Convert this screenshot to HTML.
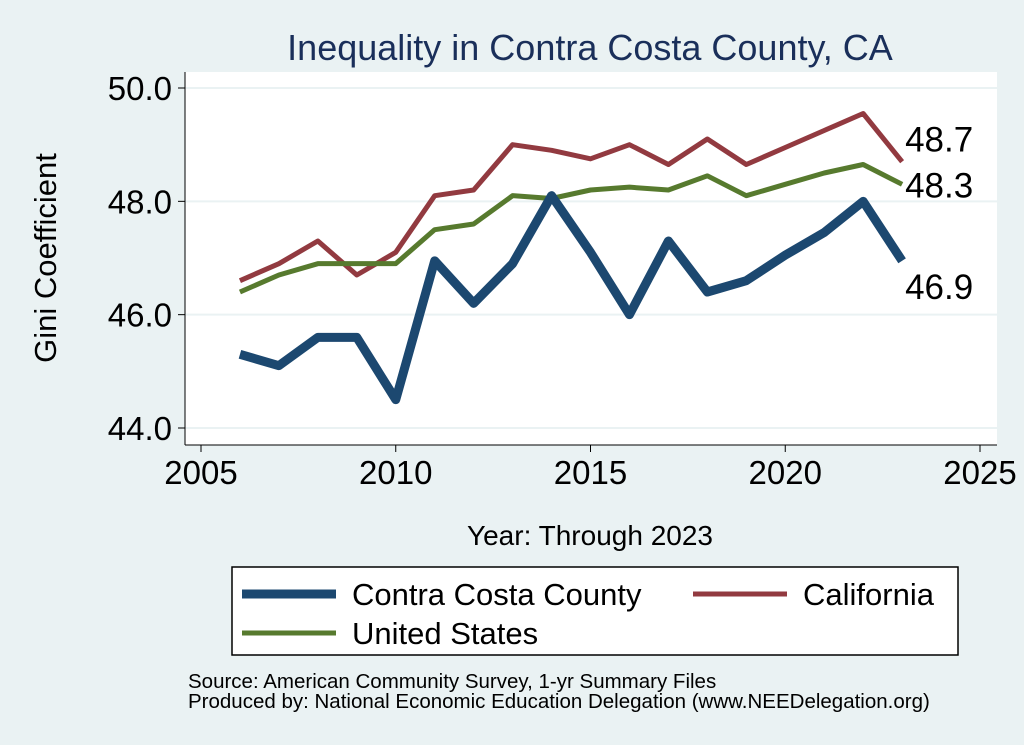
<!DOCTYPE html>
<html><head><meta charset="utf-8"><style>
body{margin:0;background:#eaf2f3;}
svg{display:block;font-family:"Liberation Sans",sans-serif;}
</style></head><body>
<svg width="1024" height="745" id="c">
<rect x="0" y="0" width="1024" height="745" fill="#eaf2f3"/>
<rect x="185" y="72" width="812" height="373" fill="#fff"/>
<text x="590" y="60" text-anchor="middle" font-size="36" fill="#1a2f5a">Inequality in Contra Costa County, CA</text>
<text transform="translate(56,258) rotate(-90)" text-anchor="middle" font-size="31" fill="#000">Gini Coefficient</text>
<text x="590" y="545" text-anchor="middle" font-size="28" fill="#000">Year: Through 2023</text>
<g id="grid"></g><g id="axes"></g><g id="series"></g><g id="labels"></g>
<rect x="232" y="567" width="726" height="88" fill="#fff" stroke="#000" stroke-width="1.5"/>
<g><line x1="242" y1="594" x2="336" y2="594" stroke="#1c4870" stroke-width="9"/><text x="352" y="605" font-size="31">Contra Costa County</text></g>
<g><line x1="693" y1="594" x2="787" y2="594" stroke="#923a40" stroke-width="5"/><text x="803" y="605" font-size="31">California</text></g>
<g><line x1="242" y1="633" x2="336" y2="633" stroke="#577a2e" stroke-width="5"/><text x="352" y="644" font-size="31">United States</text></g>
<text x="188" y="688" font-size="20.5">Source: American Community Survey, 1-yr Summary Files</text>
<text x="188" y="708" font-size="20.5">Produced by: National Economic Education Delegation (www.NEEDelegation.org)</text>
</svg>
<script>
const years=[2006,2007,2008,2009,2010,2011,2012,2013,2014,2015,2016,2017,2018,2019,2020,2021,2022,2023];
const county=[45.3,45.1,45.6,45.6,44.5,46.95,46.2,46.9,48.1,47.1,46.0,47.3,46.4,46.6,47.05,47.45,48.0,46.95];
const california=[46.6,46.9,47.3,46.7,47.1,48.1,48.2,49.0,48.9,48.75,49.0,48.65,49.1,48.65,48.95,49.25,49.55,48.7];
const us=[46.4,46.7,46.9,46.9,46.9,47.5,47.6,48.1,48.05,48.2,48.25,48.2,48.45,48.1,48.3,48.5,48.65,48.3];
const yTicks=[44,46,48,50];
const xTicks=[2005,2010,2015,2020,2025];
const endLabels=["46.9","48.7","48.3"];
const NS="http://www.w3.org/2000/svg";
const X=v=>201+(v-2005)*(980-201)/20;
const Y=v=>428-(v-44)*(428-88)/6;
function mk(t,a,p){const e=document.createElementNS(NS,t);for(const k in a)e.setAttribute(k,a[k]);document.getElementById(p).appendChild(e);return e;}
yTicks.forEach(v=>{
 const g=mk('line',{x1:185,x2:997,y1:Y(v),y2:Y(v),stroke:'#eaf2f3','stroke-width':2},'grid');
 
 
 const t=mk('line',{x1:178,x2:185,y1:Y(v),y2:Y(v),stroke:'#000','stroke-width':1},'axes');
 
 
 const l=mk('text',{x:172,y:Y(v)+12,'text-anchor':'end','font-size':33},'axes');l.textContent=v.toFixed(1);
 
 
});
const ya=mk('line',{x1:185,x2:185,y1:72,y2:445,stroke:'#000','stroke-width':1},'axes');


const xa=mk('line',{x1:185,x2:997,y1:445,y2:445,stroke:'#000','stroke-width':1},'axes');


xTicks.forEach(v=>{
 const t=mk('line',{x1:X(v),x2:X(v),y1:445,y2:452,stroke:'#000'},'axes');
 
 
 const l=mk('text',{x:X(v),y:484,'text-anchor':'middle','font-size':33},'axes');l.textContent=v;
 
 
});
function line(vals,color,w,name){
 const p=mk('polyline',{points:vals.map((v,i)=>X(years[i])+','+Y(v)).join(' '),fill:'none',stroke:color,'stroke-width':w,'stroke-linejoin':'round'},'series');
 
 
}
line(california,'#923a40',5,'california-line');
line(us,'#577a2e',5,'us-line');
line(county,'#1c4870',9,'county-line');
const lx=X(years[years.length-1]);
const s=[[county,endLabels[0],38],[california,endLabels[1],-10],[us,endLabels[2],13]];
s.forEach(([vals,txt,dy])=>{
 const l=mk('text',{x:lx+3,y:Y(vals[vals.length-1])+dy,'font-size':35},'labels');l.textContent=txt;
 
 
});
</script>
</body></html>
